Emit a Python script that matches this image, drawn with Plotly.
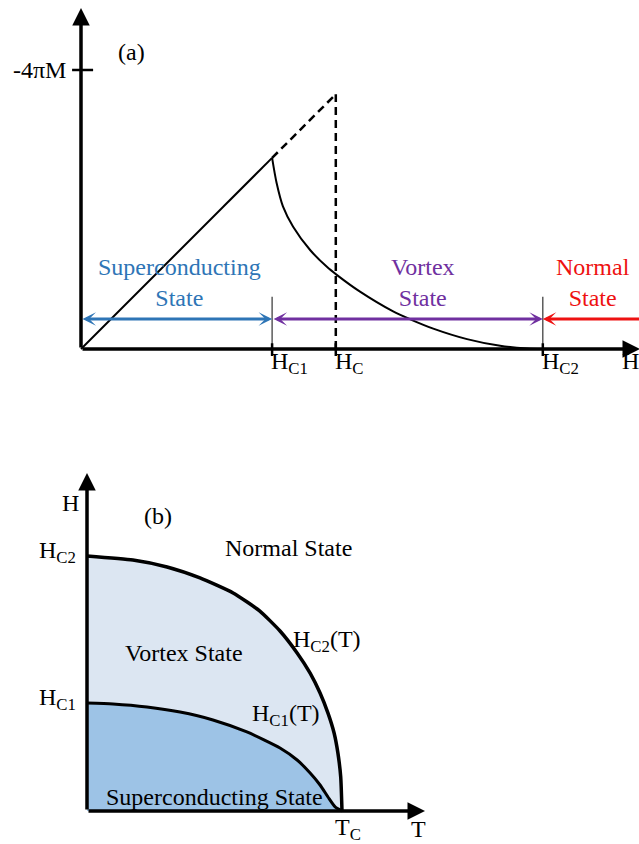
import plotly.graph_objects as go

# ---------------- data: panel (a) magnetisation vs field ----------------
field_ticks = [3.0, 4.0, 7.25]                      # H_C1, H_C, H_C2
field_tick_labels = ["H<sub>C1</sub>", "H<sub>C</sub>", "H<sub>C2</sub>"]
field_axis_label = "H"
m_tick_value = 4.38
m_tick_label = "-4πM"

meissner_H = [0.0, 3.0]
meissner_M = [0.0, 3.0]
extrap_H = [3.0, 4.0]
extrap_M = [3.0, 4.0]
hc_line_H = [4.0, 4.0]
hc_line_M = [0.0, 4.0]

vortex_H = [3.0, 3.07, 3.17, 3.33, 3.60, 3.86, 4.02, 4.38, 4.90, 5.16, 5.53, 6.06, 6.58, 7.0, 7.25]
vortex_M = [3.0, 2.61, 2.24, 1.92, 1.55, 1.29, 1.16, 0.90, 0.59, 0.47, 0.32, 0.155, 0.05, 0.008, 0.0]

state_names_a = ["Superconducting<br>State", "Vortex<br>State", "Normal<br>State"]
state_start = [0.0, 3.0, 9.6]
state_end = [3.0, 7.25, 7.25]
state_label_x = [1.55, 5.37, 8.04]
state_colors = ["#2E75B6", "#7030A0", "#EE1111"]
state_both_heads = [True, True, False]

# ---------------- data: panel (b) phase diagram (T/Tc, H/Hc2(0)) ----------------
T_hc2 = [0.0, 0.180, 0.314, 0.443, 0.573, 0.678, 0.757, 0.824, 0.875, 0.914, 0.945, 0.969, 0.984, 0.995, 1.0]
H_hc2 = [1.0, 0.984, 0.957, 0.914, 0.855, 0.784, 0.706, 0.620, 0.541, 0.463, 0.384, 0.306, 0.227, 0.133, 0.0]
T_hc1 = [0.0, 0.102, 0.235, 0.365, 0.494, 0.627, 0.757, 0.824, 0.875, 0.914, 0.945, 0.973, 1.0]
H_hc1 = [0.424, 0.420, 0.408, 0.388, 0.357, 0.310, 0.247, 0.200, 0.149, 0.102, 0.055, 0.016, 0.0]

# ---------------- layout geometry (pixels) ----------------
W, HGT = 639, 844
split = 400                     # panel a occupies top 400 px
oa_x, oa_y, sa = 81, 349, 63.7  # origin & scale of panel a
ob_x, ob_y, sbx, sby = 87, 811, 255, 255

FONT = "Liberation Serif"
FS = 24

fig = go.Figure()

# panel (a) traces
fig.add_trace(go.Scatter(x=meissner_H, y=meissner_M, mode="lines",
                         line=dict(color="black", width=2), xaxis="x", yaxis="y"))
fig.add_trace(go.Scatter(x=extrap_H, y=extrap_M, mode="lines",
                         line=dict(color="black", width=2.5, dash="8px,5px"), xaxis="x", yaxis="y"))
fig.add_trace(go.Scatter(x=hc_line_H, y=hc_line_M, mode="lines",
                         line=dict(color="black", width=2.5, dash="8px,5px"), xaxis="x", yaxis="y"))
fig.add_trace(go.Scatter(x=vortex_H, y=vortex_M, mode="lines", line_shape="spline",
                         line=dict(color="black", width=2, smoothing=0.8), xaxis="x", yaxis="y"))
# thin boundary markers at H_C1 and H_C2
for hv in [field_ticks[0], field_ticks[2]]:
    fig.add_trace(go.Scatter(x=[hv, hv], y=[0.0, 0.82], mode="lines",
                             line=dict(color="#333333", width=1.2), xaxis="x", yaxis="y"))
# x ticks
for hv in field_ticks:
    fig.add_trace(go.Scatter(x=[hv, hv], y=[-0.11, 0.09], mode="lines",
                             line=dict(color="black", width=2.5), xaxis="x", yaxis="y"))
# y tick
fig.add_trace(go.Scatter(x=[-0.14, 0.19], y=[m_tick_value, m_tick_value], mode="lines",
                         line=dict(color="black", width=2.5), xaxis="x", yaxis="y"))

# panel (b) traces
fig.add_trace(go.Scatter(x=T_hc2, y=H_hc2, mode="lines", line_shape="spline", fill="tozeroy",
                         fillcolor="#DCE6F2", line=dict(color="black", width=3.5, smoothing=0.5),
                         xaxis="x2", yaxis="y2"))
fig.add_trace(go.Scatter(x=T_hc1, y=H_hc1, mode="lines", line_shape="spline", fill="tozeroy",
                         fillcolor="#9DC3E6", line=dict(color="black", width=3, smoothing=0.6),
                         xaxis="x2", yaxis="y2"))

ann = []

def arrow(xr, yr, x0, y0, x1, y1, color="black", width=3.5, head=2, size=1.0, both=False):
    d = dict(x=x1, y=y1, ax=x0, ay=y0, xref=xr, yref=yr, axref=xr, ayref=yr,
             text="", showarrow=True, arrowhead=head, arrowsize=size, arrowwidth=width,
             arrowcolor=color, standoff=0, startstandoff=0)
    if both:
        d.update(arrowside="end+start", startarrowhead=head, startarrowsize=size)
    ann.append(d)

def label(xr, yr, x, y, text, xanchor="center", yanchor="middle", color="black", size=FS):
    ann.append(dict(x=x, y=y, xref=xr, yref=yr, text=text, showarrow=False,
                    xanchor=xanchor, yanchor=yanchor,
                    font=dict(family=FONT, size=size, color=color)))

# panel (a) axes
arrow("x", "y", 0, 0, 0, (oa_y - 8) / sa)
arrow("x", "y", 0, 0, (640 - oa_x) / sa, 0)
# state arrows
for s0, s1, c, b in zip(state_start, state_end, state_colors, state_both_heads):
    arrow("x", "y", s0, 0.47, s1, 0.47, color=c, width=3, head=3, size=0.75, both=b)
for name, lx, c in zip(state_names_a, state_label_x, state_colors):
    label("x", "y", lx, 1.04, name, color=c)
for hv, t in zip(field_ticks, field_tick_labels):
    label("x", "y", hv - 0.05, 0.04, t, xanchor="left", yanchor="top")
label("x", "y", (620 - oa_x) / sa, 0.04, field_axis_label, xanchor="left", yanchor="top")
label("x", "y", -0.2, m_tick_value, m_tick_label, xanchor="right")
label("x", "y", 0.80, 4.66, "(a)")

# panel (b) axes
arrow("x2", "y2", 0, 0, 0, (ob_y - 473) / sby)
arrow("x2", "y2", 0, 0, (425 - ob_x) / sbx, 0)
label("x2", "y2", -0.063, 1.207, "H")
label("x2", "y2", 0.28, 1.156, "(b)")
label("x2", "y2", -0.036, 1.016, "H<sub>C2</sub>", xanchor="right")
label("x2", "y2", -0.036, 0.44, "H<sub>C1</sub>", xanchor="right")
label("x2", "y2", 0.79, 1.03, "Normal State")
label("x2", "y2", 0.38, 0.621, "Vortex State")
label("x2", "y2", 0.80, 0.668, "H<sub>C2</sub>(T)", xanchor="left")
label("x2", "y2", 0.64, 0.375, "H<sub>C1</sub>(T)", xanchor="left")
label("x2", "y2", 0.5, 0.055, "Superconducting State")
label("x2", "y2", 0.965, -0.003, "T<sub>C</sub>", xanchor="left", yanchor="top")
label("x2", "y2", 1.30, -0.012, "T", xanchor="center", yanchor="top")

ax_common = dict(visible=False, showgrid=False, zeroline=False, fixedrange=True)
fig.update_layout(
    width=W, height=HGT, margin=dict(l=0, r=0, t=0, b=0),
    paper_bgcolor="white", plot_bgcolor="white", showlegend=False,
    xaxis=dict(domain=[0, 1], range=[(0 - oa_x) / sa, (W - oa_x) / sa], anchor="y", **ax_common),
    yaxis=dict(domain=[1 - split / HGT, 1], range=[(oa_y - split) / sa, oa_y / sa], anchor="x", **ax_common),
    xaxis2=dict(domain=[0, 1], range=[(0 - ob_x) / sbx, (W - ob_x) / sbx], anchor="y2", **ax_common),
    yaxis2=dict(domain=[0, 1 - split / HGT], range=[(ob_y - HGT) / sby, (ob_y - split) / sby], anchor="x2", **ax_common),
    annotations=ann,
)

fig.write_html("out.html")
